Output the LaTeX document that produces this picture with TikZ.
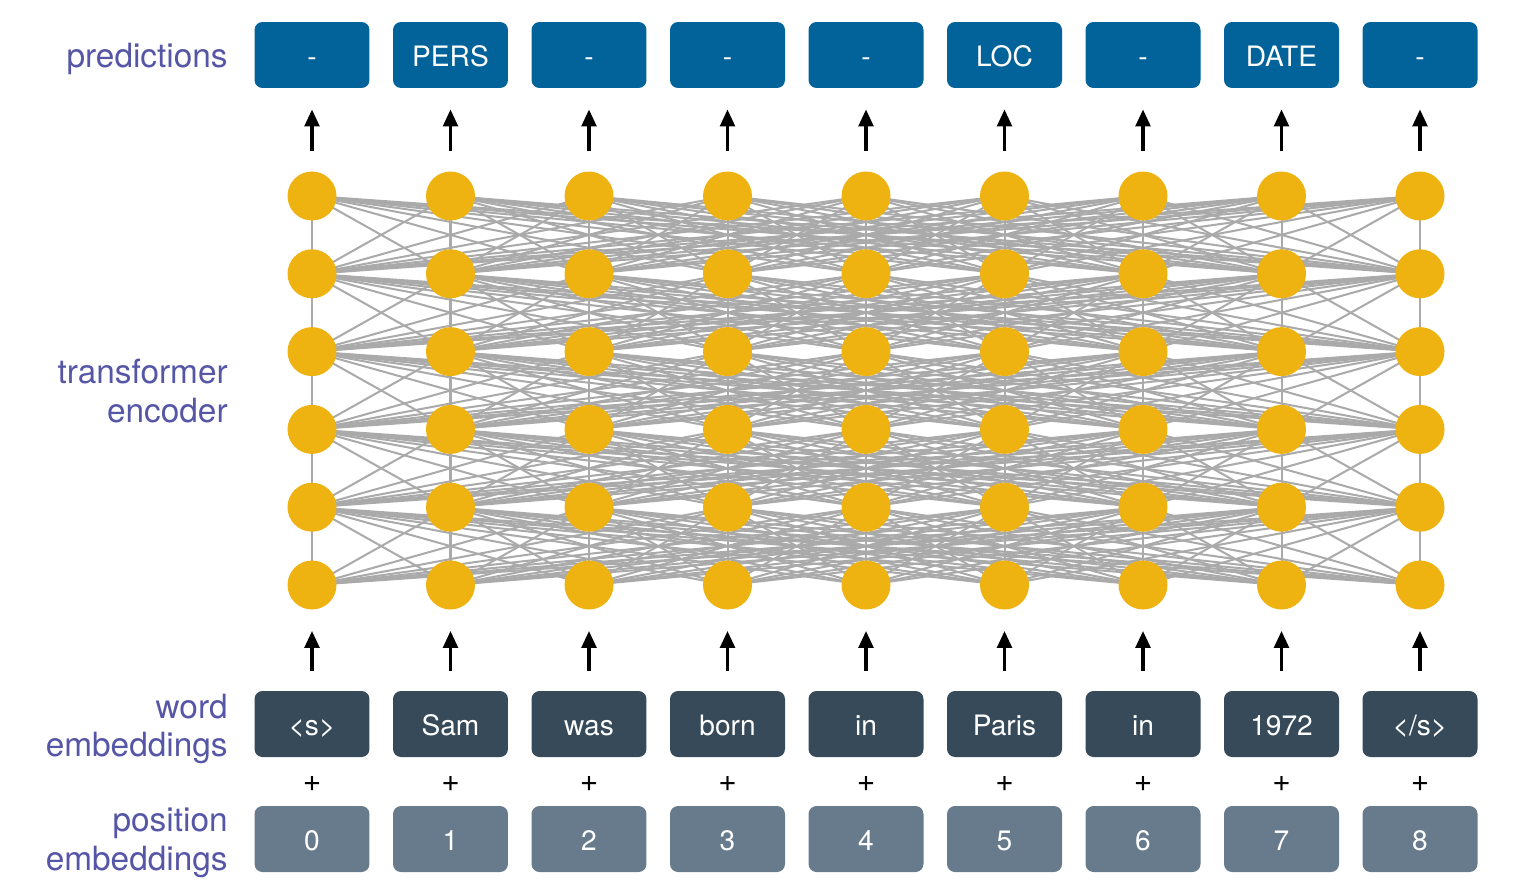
\documentclass[tikz,border=0pt]{standalone}
\usepackage{fontspec}
\setmainfont{TeX Gyre Heros}
\usetikzlibrary{arrows.meta,backgrounds}
\definecolor{predblue}{HTML}{02629A}
\definecolor{wordgray}{HTML}{364A5A}
\definecolor{posgray}{HTML}{687B8D}
\definecolor{unitgold}{HTML}{EEB211}
\definecolor{linkgray}{HTML}{AAAAAA}
\definecolor{labelpurple}{HTML}{5656A6}
\tikzset{
  tokbox/.style={rounded corners=0.16cm, minimum width=2.3cm, minimum height=1.32cm,
    inner sep=0pt, text height=0.5cm, text depth=0.06cm, text=white,
    font=\fontsize{16}{19}\selectfont},
  predbox/.style={tokbox, fill=predblue},
  wordbox/.style={tokbox, fill=wordgray},
  posbox/.style={tokbox, fill=posgray},
  plus/.style={inner sep=0pt, font=\fontsize{18}{21}\selectfont},
  unit/.style={circle, fill=unitgold, minimum size=0.98cm, inner sep=0pt},
  link/.style={linkgray, line width=1.15pt},
  up/.style={-{Triangle[width=0.29cm,length=0.34cm]}, line width=2.1pt,
    shorten <=0.4cm, shorten >=0.42cm},
  sidelabel/.style={labelpurple, align=right, anchor=east, inner sep=0pt,
    font=\fontsize{19}{22}\selectfont},
}

\begin{document}
\begin{tikzpicture}[x=0.02cm,y=-0.02cm]
  \useasboundingbox (0,0) rectangle (1534,886);
  % labels on the left
  \node[sidelabel] (lpred) at (228,59) {predictions};
  \node[sidelabel] (lenc) at (228,391) {transformer\\encoder};
  \node[sidelabel] (lword) at (228,729) {word\\embeddings};
  \node[sidelabel] (lpos) at (228,843) {position\\embeddings};
  % one column per token
  \foreach \tag/\word [count=\i from 0] in {-/{<s>}, PERS/Sam, -/was, -/born,
      -/in, LOC/Paris, -/in, DATE/1972, -/{</s>}} {
    \pgfmathsetmacro\x{312+138.5*\i}
    \node[predbox] (p\i) at (\x,55) {\tag};
    \node[wordbox] (w\i) at (\x,724) {\word};
    \node[plus] (s\i) at (\x,784) {+};
    \node[posbox] (q\i) at (\x,839) {\i};
    \foreach \r in {0,...,5}
      \node[unit] (h\i-\r) at (\x,{196+77.8*\r}) {};
    \draw[up] (w\i) -- (h\i-5);
    \draw[up] (h\i-0) -- (p\i);
  }
  % attention links between layers
  \begin{pgfonlayer}{background}
    \foreach \r [evaluate=\r as \s using int(\r+1)] in {0,...,4}
      \foreach \i in {0,...,8}
        \foreach \j in {0,...,8}
          \draw[link] (h\i-\r.center) -- (h\j-\s.center);
  \end{pgfonlayer}
\end{tikzpicture}
\end{document}
